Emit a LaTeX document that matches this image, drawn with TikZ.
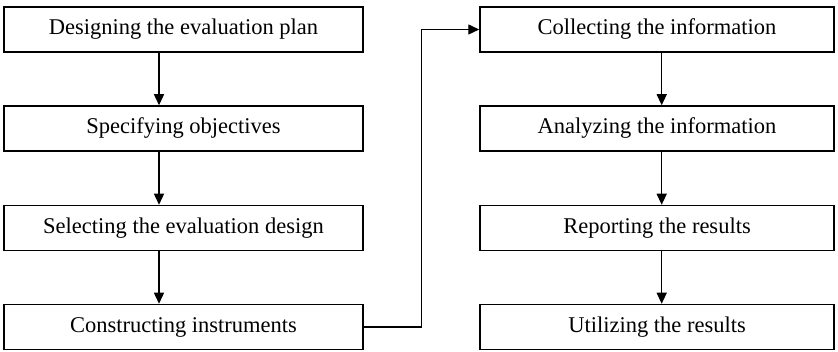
\documentclass[tikz,border=0pt]{standalone}
\usepackage{fontspec}
\setmainfont{Liberation Serif}
\usetikzlibrary{arrows.meta}
\begin{document}
\begin{tikzpicture}[x=1pt,y=-1pt,
  stepbox/.style={draw=black,line width=1.5pt,fill=white,minimum height=45pt,inner sep=0pt,font=\fontsize{22.5}{26}\selectfont},
  lbox/.style={stepbox,minimum width=359pt},
  rbox/.style={stepbox,minimum width=354pt},
  conn/.style={line width=1.4pt,-{Triangle[length=11pt,width=10pt]}}]
\useasboundingbox (0,0) rectangle (838,352);
\node[lbox] (b1) at (183.5,29.5) {Designing the evaluation plan};
\node[lbox] (b2) at (183.5,128.5) {Specifying objectives};
\node[lbox] (b3) at (183.5,228) {Selecting the evaluation design};
\node[lbox] (b4) at (183.5,327) {Constructing instruments};
\node[rbox] (c1) at (657,29.5) {Collecting the information};
\node[rbox] (c2) at (657,128.5) {Analyzing the information};
\node[rbox] (c3) at (657,228) {Reporting the results};
\node[rbox] (c4) at (657,327) {Utilizing the results};
\draw[conn] ([xshift=-24.5pt]b1.south) -- ([xshift=-24.5pt]b2.north);
\draw[conn] ([xshift=-24.5pt]b2.south) -- ([xshift=-24.5pt]b3.north);
\draw[conn] ([xshift=-24.5pt]b3.south) -- ([xshift=-24.5pt]b4.north);
\draw[conn] ([xshift=4.7pt]c1.south) -- ([xshift=4.7pt]c2.north);
\draw[conn] ([xshift=4.7pt]c2.south) -- ([xshift=4.7pt]c3.north);
\draw[conn] ([xshift=4.7pt]c3.south) -- ([xshift=4.7pt]c4.north);
\coordinate (k) at (421.7,327);
\draw[conn] (b4.east) -- (k) |- (c1.west);
\end{tikzpicture}
\end{document}
